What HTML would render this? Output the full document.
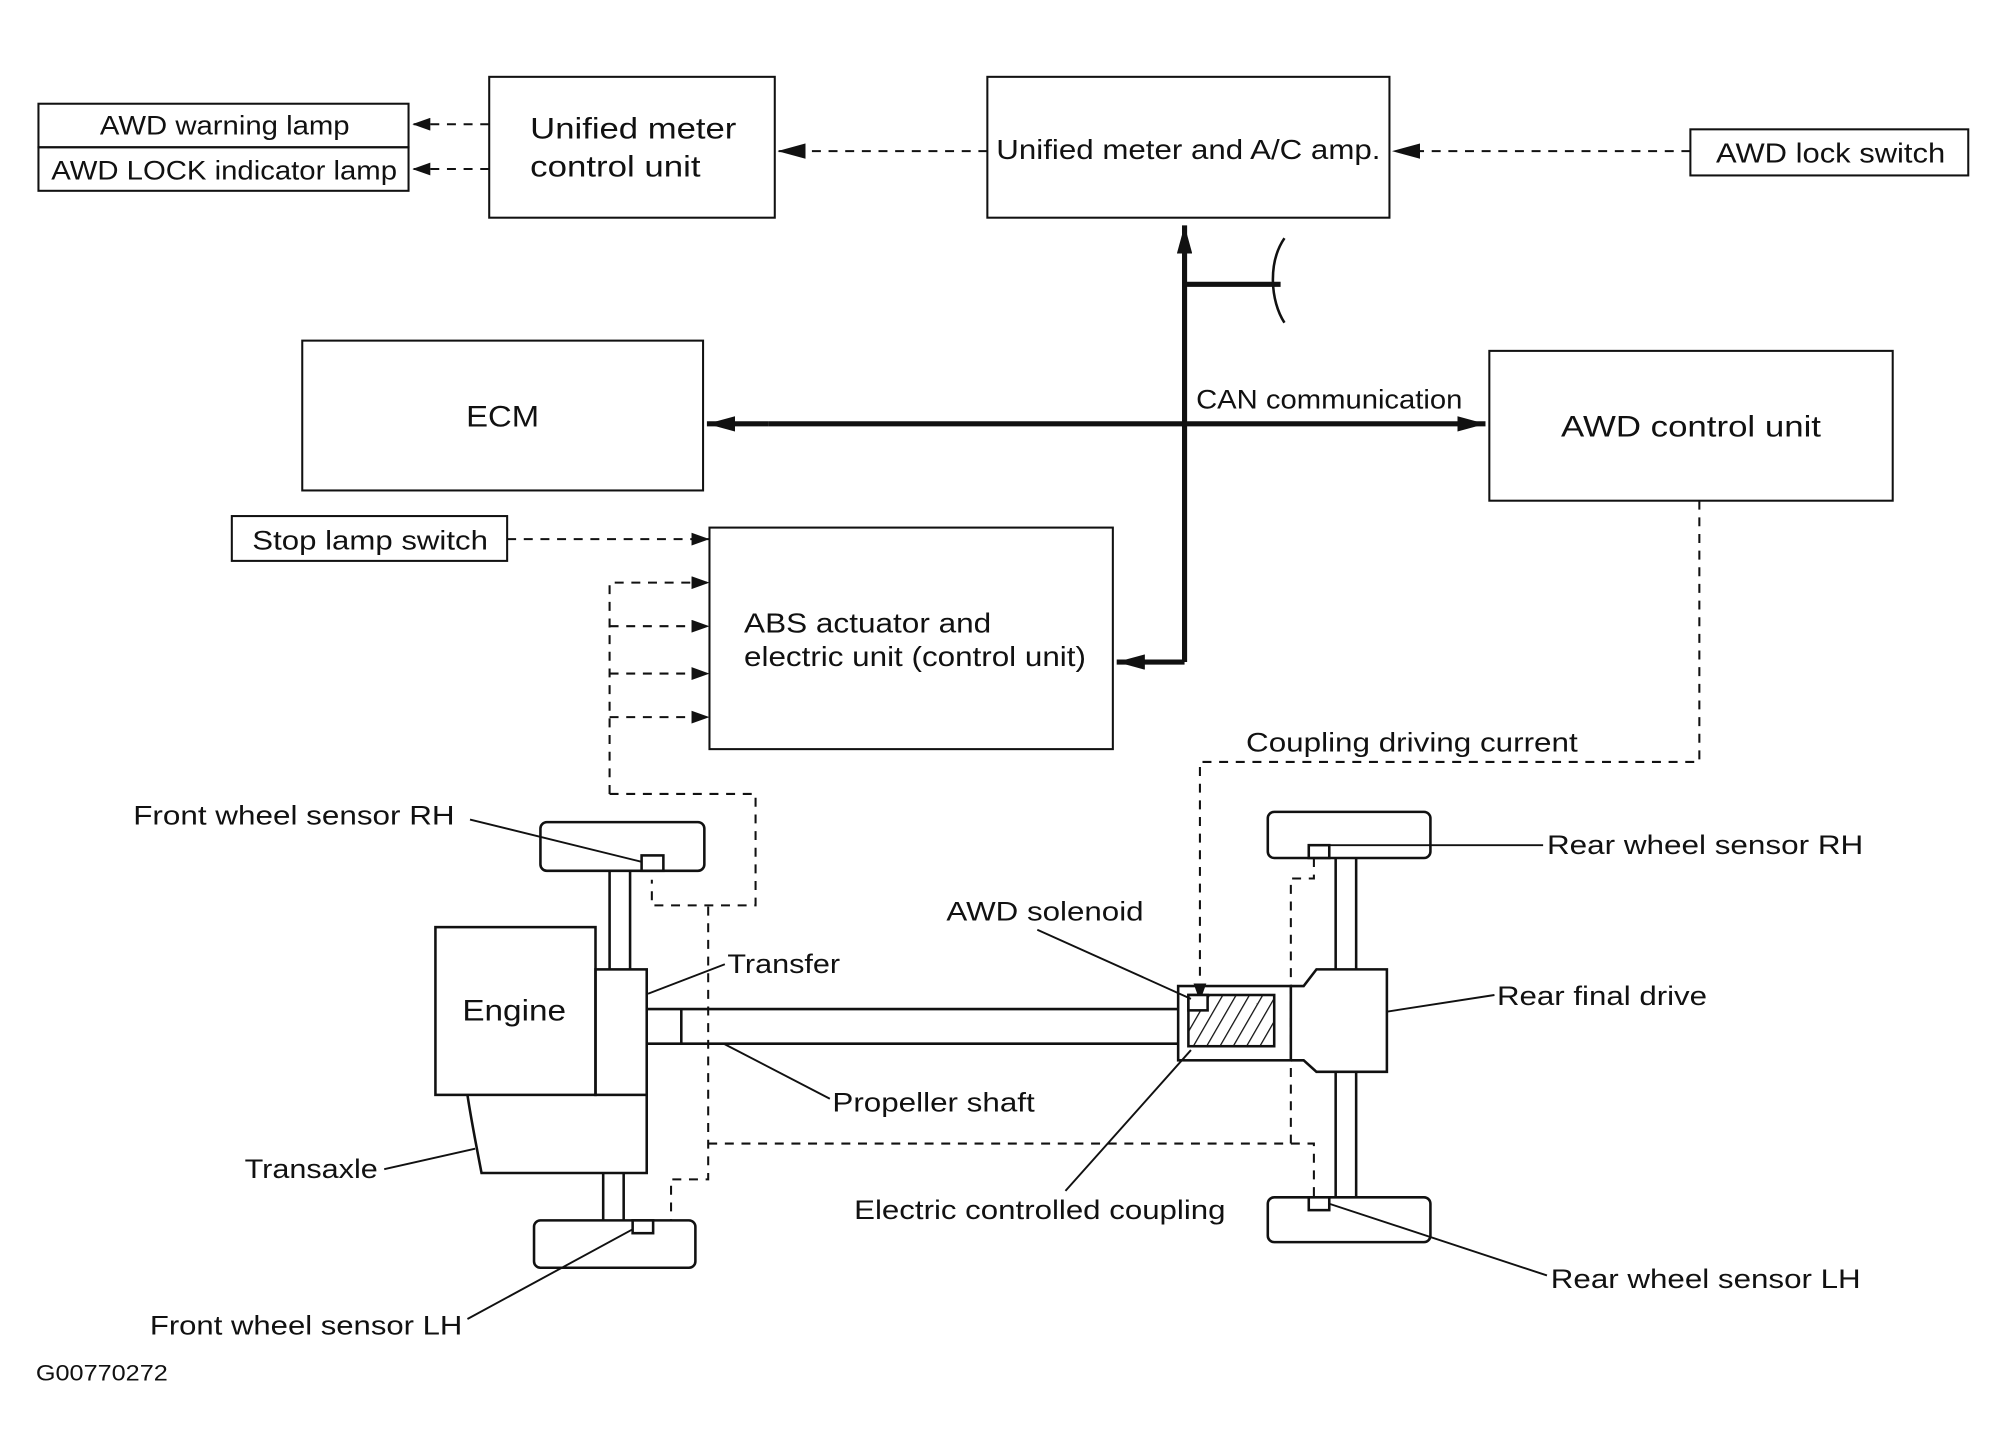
<!DOCTYPE html>
<html><head><meta charset="utf-8"><style>
html,body{margin:0;padding:0;background:#fff;}
svg{display:block}
text{font-family:"Liberation Sans",Arial,sans-serif;font-size:21px;fill:#111}
</style></head><body>
<svg width="2008" height="1456" viewBox="0 0 1568 1137" xmlns="http://www.w3.org/2000/svg">
<defs>
<marker id="a" markerWidth="10" markerHeight="8" refX="10" refY="4" orient="auto" markerUnits="userSpaceOnUse"><path d="M0,0 L10,4 L0,8 Z" fill="#111"/></marker>
<marker id="b" markerWidth="22" markerHeight="12" refX="22" refY="6" orient="auto" markerUnits="userSpaceOnUse"><path d="M0,0 L22,6 L0,12 Z" fill="#111"/></marker>
<marker id="c" markerWidth="14" markerHeight="10" refX="14" refY="5" orient="auto" markerUnits="userSpaceOnUse"><path d="M0,0 L14,5 L0,10 Z" fill="#111"/></marker>
<pattern id="h" width="9" height="9" patternUnits="userSpaceOnUse" patternTransform="rotate(30)"><line x1="0" y1="0" x2="0" y2="9" stroke="#111" stroke-width="2"/></pattern>
</defs>
<g fill="none" stroke="#111" stroke-width="1.6">
<rect x="30" y="81" width="289" height="34"/>
<rect x="30" y="115" width="289" height="34"/>
<rect x="382" y="60" width="223" height="110"/>
<rect x="771" y="60" width="314" height="110"/>
<rect x="1320" y="101" width="217" height="36"/>
<rect x="236" y="266" width="313" height="117"/>
<rect x="1163" y="274" width="315" height="117"/>
<rect x="181" y="403" width="215" height="35"/>
<rect x="554" y="412" width="315" height="173"/>
</g>
<g fill="none" stroke="#111" stroke-width="1.6" stroke-dasharray="7,6">
<line x1="382" y1="97" x2="322" y2="97" marker-end="url(#c)"/>
<line x1="382" y1="132" x2="322" y2="132" marker-end="url(#c)"/>
<line x1="771" y1="118" x2="607" y2="118" marker-end="url(#b)"/>
<line x1="1320" y1="118" x2="1087" y2="118" marker-end="url(#b)"/>
<line x1="396" y1="421" x2="554" y2="421" marker-end="url(#c)"/>
<polyline points="476,620 476,455 554,455" marker-end="url(#c)"/>
<line x1="476" y1="489" x2="554" y2="489" marker-end="url(#c)"/>
<line x1="476" y1="526" x2="554" y2="526" marker-end="url(#c)"/>
<line x1="476" y1="560" x2="554" y2="560" marker-end="url(#c)"/>
<polyline points="476,620 590,620 590,707 509,707 509,687"/>
<polyline points="553,708 553,921 524,921 524,953"/>
<polyline points="553,893 1026,893 1026,935"/>
<polyline points="1008,893 1008,686 1026,686 1026,670"/>
<polyline points="1327,391 1327,595 937,595 937,782" marker-end="url(#c)"/>
</g>
<g fill="none" stroke="#111" stroke-width="4">
<line x1="925" y1="517" x2="925" y2="176" marker-end="url(#b)"/>
<line x1="925" y1="222" x2="1000" y2="222"/>
<line x1="600" y1="331" x2="1160" y2="331" marker-end="url(#b)"/>
<line x1="600" y1="331" x2="552" y2="331" marker-end="url(#b)"/>
<line x1="925" y1="517" x2="872" y2="517" marker-end="url(#b)"/>
</g>
<path d="M1003,186 C990,205 992,235 1003,252" fill="none" stroke="#111" stroke-width="2"/>
<g fill="none" stroke="#111" stroke-width="2">
<rect x="422" y="642" width="128" height="38" rx="5"/>
<rect x="501" y="668" width="17" height="12" fill="#fff"/>
<line x1="476" y1="680" x2="476" y2="757"/><line x1="492" y1="680" x2="492" y2="757"/>
<rect x="340" y="724" width="125" height="131"/>
<rect x="465" y="757" width="40" height="98"/>
<path d="M365,855 C368,875 372,895 376,916 L505,916 L505,855"/>
<line x1="471" y1="916" x2="471" y2="953"/><line x1="487" y1="916" x2="487" y2="953"/>
<rect x="417" y="953" width="126" height="37" rx="5"/>
<rect x="494" y="953" width="16" height="10" fill="#fff"/>
<line x1="505" y1="788" x2="920" y2="788"/><line x1="505" y1="815" x2="920" y2="815"/>
<line x1="532" y1="788" x2="532" y2="815"/>
<rect x="920" y="770" width="88" height="58"/>
<rect x="928" y="777" width="67" height="40" fill="url(#h)"/>
<rect x="928" y="777" width="15" height="12" fill="#fff"/>
<path d="M1008,770 L1018,770 L1028,757 L1083,757 L1083,837 L1028,837 L1018,828 L1008,828"/>
<line x1="1043" y1="670" x2="1043" y2="757"/><line x1="1059" y1="670" x2="1059" y2="757"/>
<line x1="1043" y1="837" x2="1043" y2="935"/><line x1="1059" y1="837" x2="1059" y2="935"/>
<rect x="990" y="634" width="127" height="36" rx="5"/>
<rect x="1022" y="660" width="16" height="10" fill="#fff"/>
<rect x="990" y="935" width="127" height="35" rx="5"/>
<rect x="1022" y="935" width="16" height="10" fill="#fff"/>
</g>
<g fill="none" stroke="#111" stroke-width="1.5">
<line x1="367" y1="640" x2="501" y2="673"/>
<line x1="506" y1="776" x2="566" y2="753"/>
<line x1="565" y1="815" x2="648" y2="858"/>
<line x1="300" y1="913" x2="371" y2="897"/>
<line x1="365" y1="1030" x2="494" y2="960"/>
<line x1="810" y1="726" x2="930" y2="780"/>
<line x1="832" y1="930" x2="930" y2="820"/>
<line x1="1038" y1="660" x2="1205" y2="660"/>
<line x1="1083" y1="790" x2="1167" y2="777"/>
<line x1="1038" y1="940" x2="1208" y2="996"/>
</g>
<g lengthAdjust="spacingAndGlyphs">
<text x="78" y="105" textLength="195" lengthAdjust="spacingAndGlyphs">AWD warning lamp</text>
<text x="40" y="140" textLength="270" lengthAdjust="spacingAndGlyphs">AWD LOCK indicator lamp</text>
<text x="414" y="108" style="font-size:23px" textLength="161" lengthAdjust="spacingAndGlyphs">Unified meter</text>
<text x="414" y="138" style="font-size:23px" textLength="133" lengthAdjust="spacingAndGlyphs">control unit</text>
<text x="778" y="124" style="font-size:22px" textLength="300" lengthAdjust="spacingAndGlyphs">Unified meter and A/C amp.</text>
<text x="1340" y="127" style="font-size:22px" textLength="179" lengthAdjust="spacingAndGlyphs">AWD lock switch</text>
<text x="364" y="333" style="font-size:23px" textLength="57" lengthAdjust="spacingAndGlyphs">ECM</text>
<text x="934" y="319" textLength="208" lengthAdjust="spacingAndGlyphs">CAN communication</text>
<text x="1219" y="341" style="font-size:23px" textLength="203" lengthAdjust="spacingAndGlyphs">AWD control unit</text>
<text x="197" y="429" textLength="184" lengthAdjust="spacingAndGlyphs">Stop lamp switch</text>
<text x="581" y="494" style="font-size:22px" textLength="193" lengthAdjust="spacingAndGlyphs">ABS actuator and</text>
<text x="581" y="520" style="font-size:22px" textLength="267" lengthAdjust="spacingAndGlyphs">electric unit (control unit)</text>
<text x="973" y="587" textLength="259" lengthAdjust="spacingAndGlyphs">Coupling driving current</text>
<text x="104" y="644" textLength="251" lengthAdjust="spacingAndGlyphs">Front wheel sensor RH</text>
<text x="1208" y="667" textLength="247" lengthAdjust="spacingAndGlyphs">Rear wheel sensor RH</text>
<text x="739" y="719" textLength="154" lengthAdjust="spacingAndGlyphs">AWD solenoid</text>
<text x="568" y="760" textLength="88" lengthAdjust="spacingAndGlyphs">Transfer</text>
<text x="361" y="797" style="font-size:23px" textLength="81" lengthAdjust="spacingAndGlyphs">Engine</text>
<text x="1169" y="785" textLength="164" lengthAdjust="spacingAndGlyphs">Rear final drive</text>
<text x="650" y="868" textLength="158" lengthAdjust="spacingAndGlyphs">Propeller shaft</text>
<text x="191" y="920" textLength="104" lengthAdjust="spacingAndGlyphs">Transaxle</text>
<text x="667" y="952" textLength="290" lengthAdjust="spacingAndGlyphs">Electric controlled coupling</text>
<text x="1211" y="1006" textLength="242" lengthAdjust="spacingAndGlyphs">Rear wheel sensor LH</text>
<text x="117" y="1042" textLength="244" lengthAdjust="spacingAndGlyphs">Front wheel sensor LH</text>
<text x="28" y="1078" style="font-size:17px" textLength="103" lengthAdjust="spacingAndGlyphs">G00770272</text>
</g>
</svg>
</body></html>
